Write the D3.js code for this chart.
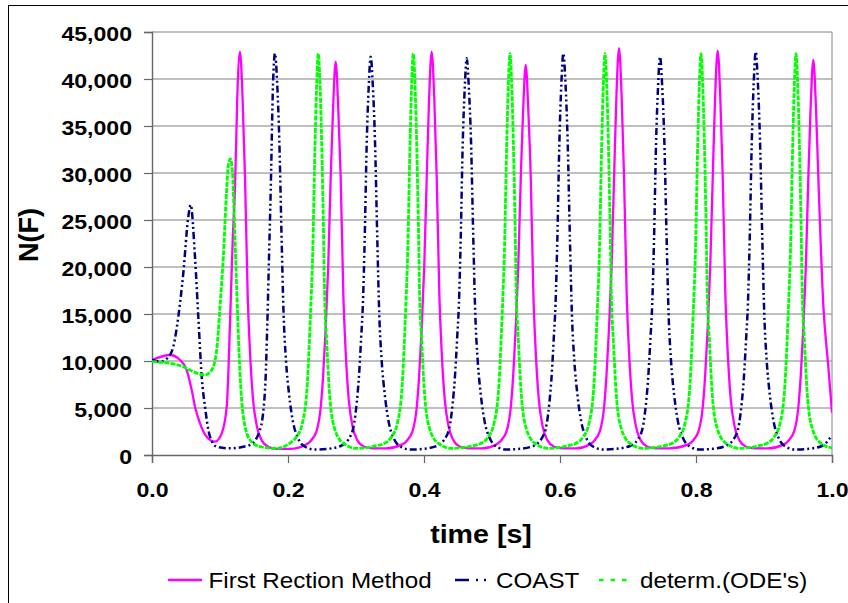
<!DOCTYPE html>
<html>
<head>
<meta charset="utf-8">
<script src="https://cdn.jsdelivr.net/npm/d3@7"></script>
<style>
body { margin: 0; background: #fff; }
svg { display: block; font-family: "Liberation Sans", Arial, sans-serif; }
</style>
</head>
<body>
<div id="chart"></div>
<script>
// values: [time s, N(F)]
var firstReaction = [
	[0,10100],[0.0265,10640],[0.0412,10110],[0.0510,9040],[0.0584,6910],[0.0632,5140],[0.0706,3370],[0.0804,1950],[0.0926,1420],[0.1025,2300],[0.1099,5140],[0.1147,14000],[0.1187,22870],[0.1221,28500],[0.1254,38000],[0.1294,42900],
	[0.1334,37500],[0.1368,29500],[0.1407,17000],[0.1441,11000],[0.1485,6000],[0.1544,3000],[0.1618,1500],[0.1706,900],[0.1823,650],[0.2029,650],
	[0.2260,1100],[0.2333,1500],[0.2422,2600],[0.2480,5000],[0.2517,8500],[0.2554,13500],[0.2591,20000],[0.2630,30000],[0.2661,36500],[0.2701,41840],[0.2741,36500],[0.2775,29500],[0.2814,17000],[0.2848,11000],[0.2892,6000],[0.2951,3000],[0.3025,1500],[0.3113,900],[0.3230,720],[0.3436,700],
	[0.3672,1100],[0.3745,1500],[0.3834,2600],[0.3892,5000],[0.3929,8500],[0.3966,13500],[0.4003,20000],[0.4042,30000],[0.4073,37500],[0.4113,42900],[0.4153,37500],[0.4187,29500],[0.4226,17000],[0.4260,11000],[0.4304,6000],[0.4363,3000],[0.4437,1500],[0.4525,900],[0.4642,720],[0.4848,700],
	[0.5055,1100],[0.5128,1500],[0.5217,2600],[0.5275,5000],[0.5312,8500],[0.5349,13500],[0.5386,20000],[0.5425,30000],[0.5456,36300],[0.5496,41490],[0.5536,36300],[0.5570,29500],[0.5609,17000],[0.5643,11000],[0.5687,6000],[0.5746,3000],[0.5820,1500],[0.5908,900],[0.6025,720],[0.6231,700],
	[0.6427,1100],[0.6500,1500],[0.6589,2600],[0.6647,5000],[0.6684,8500],[0.6721,13500],[0.6758,20000],[0.6797,30000],[0.6828,37800],[0.6868,43270],[0.6908,37800],[0.6942,29500],[0.6981,17000],[0.7015,11000],[0.7059,6000],[0.7118,3000],[0.7192,1500],[0.7280,900],[0.7397,720],[0.7603,700],
	[0.7878,1100],[0.7951,1500],[0.8040,2600],[0.8098,5000],[0.8135,8500],[0.8172,13500],[0.8209,20000],[0.8248,30000],[0.8279,37600],[0.8319,43010],[0.8359,37600],[0.8393,29500],[0.8432,17000],[0.8466,11000],[0.8510,6000],[0.8569,3000],[0.8643,1500],[0.8731,900],[0.8848,720],[0.9054,700],
	[0.9284,1100],[0.9357,1500],[0.9446,2600],[0.9504,5000],[0.9541,8500],[0.9578,13500],[0.9615,20000],[0.9654,30000],[0.9685,36800],[0.9725,42020],[0.9765,36800],[0.9799,29500],[0.9872,16000],[0.9946,9400],[1.0,4500]
]

var coast = [
	[0,10100],[0.0118,9930],[0.0265,10640],[0.0313,11520],[0.0387,14710],[0.0460,19330],[0.0534,25350],[0.0569,26600],[0.0632,21100],[0.0681,14710],[0.0731,8330],[0.0779,5140],[0.0853,1950],[0.0951,880],[0.1147,710],[0.1441,1060],[0.1588,2660],[0.1662,6910],[0.1696,14010],[0.1721,21100],[0.1746,28190],[0.1780,39500],[0.1809,42730],
	[0.1841,39500],[0.1872,33500],[0.1906,23000],[0.1935,15000],[0.1971,10000],[0.2015,6500],[0.2074,3500],[0.2147,1800],[0.2250,880],[0.2397,580],[0.2574,650],
	[0.2775,960],[0.2937,2300],[0.3010,5500],[0.3040,8000],[0.3076,12500],[0.3101,16000],[0.3128,23000],[0.3157,33000],[0.3187,39200],[0.3216,42370],[0.3248,39200],[0.3279,33500],[0.3313,23000],[0.3342,15000],[0.3378,10000],[0.3422,6500],[0.3481,3500],[0.3554,1800],[0.3657,880],[0.3804,580],[0.3981,650],
	[0.4187,960],[0.4349,2300],[0.4422,5500],[0.4452,8000],[0.4488,12500],[0.4513,16000],[0.4540,23000],[0.4569,33000],[0.4599,39000],[0.4628,42200],[0.4660,39000],[0.4691,33500],[0.4725,23000],[0.4754,15000],[0.4790,10000],[0.4834,6500],[0.4893,3500],[0.4966,1800],[0.5069,880],[0.5216,580],[0.5393,650],
	[0.5608,960],[0.5770,2300],[0.5843,5500],[0.5873,8000],[0.5909,12500],[0.5934,16000],[0.5961,23000],[0.5990,33000],[0.6020,39500],[0.6049,42730],[0.6081,39500],[0.6112,33500],[0.6146,23000],[0.6175,15000],[0.6211,10000],[0.6255,6500],[0.6314,3500],[0.6387,1800],[0.6490,880],[0.6637,580],[0.6814,650],
	[0.7030,960],[0.7192,2300],[0.7265,5500],[0.7295,8000],[0.7331,12500],[0.7356,16000],[0.7383,23000],[0.7412,33000],[0.7442,39200],[0.7471,42370],[0.7503,39200],[0.7534,33500],[0.7568,23000],[0.7597,15000],[0.7633,10000],[0.7677,6500],[0.7736,3500],[0.7809,1800],[0.7912,880],[0.8059,580],[0.8236,650],
	[0.8437,960],[0.8599,2300],[0.8672,5500],[0.8702,8000],[0.8738,12500],[0.8763,16000],[0.8790,23000],[0.8819,33000],[0.8849,39600],[0.8878,42900],[0.8910,39600],[0.8941,33500],[0.8975,23000],[0.9004,15000],[0.9040,10000],[0.9084,6500],[0.9143,3500],[0.9216,1800],[0.9319,880],[0.9466,580],[0.9643,650],
	[0.9853,960],[1.0,2100]
]

var determ = [
	[0,9930],[0.0265,9750],[0.0460,9390],[0.0607,8860],[0.0779,8510],[0.0878,9040],[0.0951,11170],[0.1000,15780],[0.1049,21100],[0.1096,28000],[0.1125,31000],[0.1154,31500],[0.1184,30000],[0.1206,26000],[0.1246,17550],[0.1294,8690],[0.1343,4070],[0.1441,1600],[0.1588,880],[0.1834,710],
	[0.2034,1300],[0.2122,1900],[0.2211,3370],[0.2284,7630],[0.2328,14500],[0.2365,22000],[0.2397,33000],[0.2424,40000],[0.2446,42700],[0.2468,40000],[0.2496,33000],[0.2520,24650],[0.2537,17550],[0.2570,12000],[0.2618,5850],[0.2692,2660],[0.2814,1240],[0.3005,710],
	[0.3284,960],[0.3431,1300],[0.3519,1900],[0.3608,3370],[0.3681,7630],[0.3725,14500],[0.3762,22000],[0.3794,33000],[0.3821,40000],[0.3843,42700],[0.3865,40000],[0.3893,33000],[0.3917,24650],[0.3934,17550],[0.3967,12000],[0.4015,5850],[0.4089,2660],[0.4211,1240],[0.4402,710],
	[0.4706,960],[0.4853,1300],[0.4941,1900],[0.5030,3370],[0.5103,7630],[0.5147,14500],[0.5184,22000],[0.5216,33000],[0.5243,40000],[0.5265,42700],[0.5287,40000],[0.5315,33000],[0.5339,24650],[0.5356,17550],[0.5389,12000],[0.5437,5850],[0.5511,2660],[0.5633,1240],[0.5824,710],
	[0.6103,960],[0.6250,1300],[0.6338,1900],[0.6427,3370],[0.6500,7630],[0.6544,14500],[0.6581,22000],[0.6613,33000],[0.6640,40000],[0.6662,42700],[0.6684,40000],[0.6712,33000],[0.6736,24650],[0.6753,17550],[0.6786,12000],[0.6834,5850],[0.6908,2660],[0.7030,1240],[0.7221,710],
	[0.7515,960],[0.7662,1300],[0.7750,1900],[0.7839,3370],[0.7912,7630],[0.7956,14500],[0.7993,22000],[0.8025,33000],[0.8052,40000],[0.8074,42700],[0.8096,40000],[0.8124,33000],[0.8148,24650],[0.8165,17550],[0.8198,12000],[0.8246,5850],[0.8320,2660],[0.8442,1240],[0.8633,710],
	[0.8912,960],[0.9059,1300],[0.9147,1900],[0.9236,3370],[0.9309,7630],[0.9353,14500],[0.9390,22000],[0.9422,33000],[0.9449,40000],[0.9471,42700],[0.9493,40000],[0.9521,33000],[0.9545,24650],[0.9562,17550],[0.9595,12000],[0.9643,5850],[0.9717,2660],[0.9839,1240],[1.0,750]
]

var yTicks = [0,5000,10000,15000,20000,25000,30000,35000,40000,45000]
var xTicks = [0,0.2,0.4,0.6,0.8,1.0]
var seriesNames = ['First Rection Method','COAST',"determ.(ODE's)"]

var W = 848, H = 603
var plotL = 152, plotR = 832, plotT = 32, plotB = 455
var stretch = 1.1

var x = d3.scaleLinear().domain([0,1]).range([plotL,plotR])
var y = d3.scaleLinear().domain([0,45000]).range([plotB,plotT])

var svg = d3.select('#chart').append('svg')
	.attr('width', W)
	.attr('height', H)

// chart frame (runs off the right and bottom)
svg.append('rect')
	.attr('x', 8.5).attr('y', 5.5)
	.attr('width', W).attr('height', H)
	.style('fill', 'none').style('stroke', '#000')

// grid
svg.append('g').selectAll('line')
	.data(yTicks.filter(d => d > 0))
	.join('line')
	.attr('x1', plotL).attr('x2', plotR)
	.attr('y1', d => y(d)).attr('y2', d => y(d))
	.style('stroke', '#808080').style('stroke-width', 1.2)

svg.append('line')
	.attr('x1', plotR).attr('x2', plotR).attr('y1', plotT).attr('y2', plotB)
	.style('stroke', '#999').style('stroke-width', 1.2)

// axes
var gy = svg.append('g').attr('transform', 'translate(' + plotL + ',0)')
	.call(d3.axisLeft(y).tickValues(yTicks).tickSize(8).tickPadding(12).tickFormat(d3.format(',')))
var gx = svg.append('g').attr('transform', 'translate(0,' + plotB + ')')
	.call(d3.axisBottom(x).tickValues(xTicks).tickSize(8).tickPadding(19).tickFormat(d3.format('.1f')))

;[gy, gx].forEach(g => {
	g.select('.domain').style('stroke', '#666').style('stroke-width', 1.4)
	g.selectAll('.tick line').style('stroke', '#666').style('stroke-width', 1.2)
	g.selectAll('.tick text')
		.style('font-family', '"Liberation Sans", Arial, sans-serif')
		.style('font-size', '21px').style('font-weight', 'bold').style('fill', '#000')
})
gy.selectAll('.tick text').attr('x', -20 / stretch).attr('dy', '0.4em').attr('transform', 'scale(' + stretch + ',1)')
gx.selectAll('.tick text').attr('transform', 'scale(' + stretch + ',1)')

// axis titles
svg.append('text')
	.attr('transform', 'translate(38,235) rotate(-90)')
	.attr('text-anchor', 'middle')
	.style('font-size', '27px').style('font-weight', 'bold')
	.text('N(F)')

svg.append('g').attr('transform', 'translate(481,543)')
	.append('text')
	.attr('transform', 'scale(' + stretch + ',1)')
	.attr('text-anchor', 'middle')
	.style('font-size', '26px').style('font-weight', 'bold')
	.text('time [s]')

// series
var styles = [
	{ color: '#FF00FF', width: 2.3, dash: null, legDash: null },
	{ color: '#000080', width: 2.5, dash: '7,3,2,3,2,3', legDash: '14,7,2,6,2,30' },
	{ color: '#00FF00', width: 2.8, dash: '5,1.2', legDash: '4.5,7' }
]
var line = d3.line().x(d => x(d[0])).y(d => y(d[1])).curve(d3.curveMonotoneX)

svg.append('clipPath').attr('id', 'plotclip')
	.append('rect').attr('x', plotL).attr('y', plotT - 5).attr('width', plotR - plotL).attr('height', plotB - plotT + 5)

var gs = svg.append('g').attr('clip-path', 'url(#plotclip)')
;[firstReaction, coast, determ].forEach((s, i) => {
	gs.append('path')
		.attr('d', line(s))
		.style('fill', 'none')
		.style('stroke', styles[i].color)
		.style('stroke-width', styles[i].width)
		.style('stroke-dasharray', styles[i].dash)
		.style('stroke-linejoin', 'round')
})

// legend
var legX = [[168, 202, 208.5], [455, 489, 496], [599, 627, 640]]
var legY = 580
seriesNames.forEach((name, i) => {
	svg.append('line')
		.attr('x1', legX[i][0]).attr('x2', legX[i][1])
		.attr('y1', legY).attr('y2', legY)
		.style('stroke', styles[i].color)
		.style('stroke-width', 2.5)
		.style('stroke-dasharray', styles[i].legDash)
	svg.append('g').attr('transform', 'translate(' + legX[i][2] + ',' + (legY + 8) + ')')
		.append('text')
		.attr('transform', 'scale(' + stretch + ',1)')
		.style('font-size', '22px')
		.text(name)
})
</script>
</body>
</html>
